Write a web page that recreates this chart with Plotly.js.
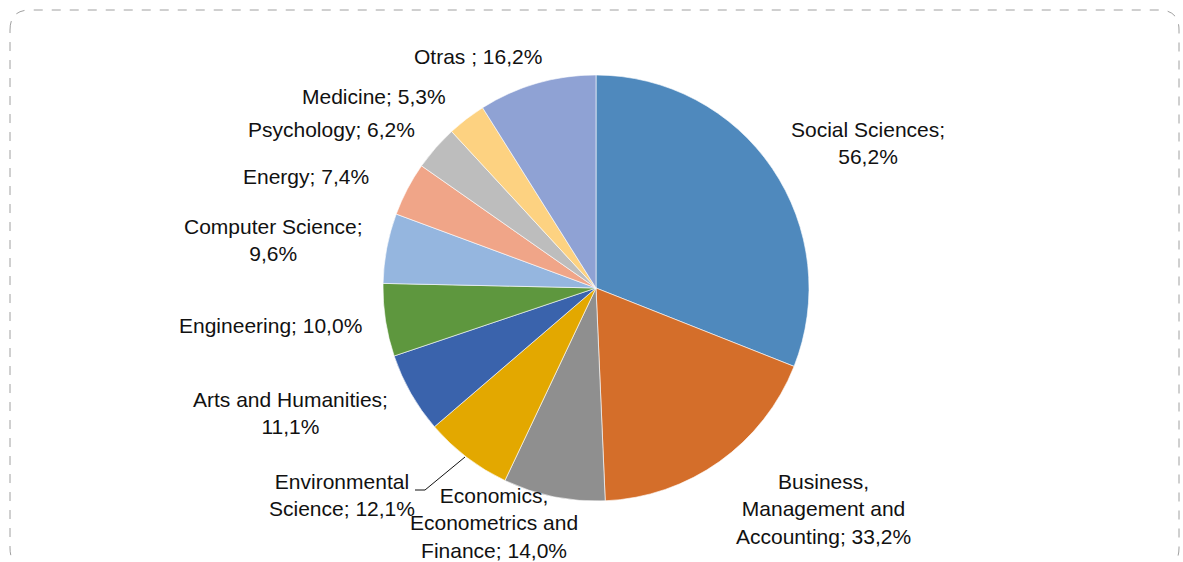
<!DOCTYPE html>
<html>
<head>
<meta charset="utf-8">
<script src="https://cdn.plot.ly/plotly-3.0.1.min.js"></script>
<style>html,body{margin:0;padding:0;background:#fff;}#chart{width:1183px;height:562px;}</style>
</head>
<body>
<div id="chart"></div>
<script>
// ---- data ----
const categories = ["Social Sciences", "Business,<br>Management and<br>Accounting", "Economics,<br>Econometrics and<br>Finance", "Environmental<br>Science", "Arts and Humanities;", "Engineering", "Computer Science;", "Energy", "Psychology", "Medicine", "Otras "];
const values = [56.2, 33.2, 14.0, 12.1, 11.1, 10.0, 9.6, 7.4, 6.2, 5.3, 16.2];
const valueLabels = ["56,2%", "33,2%", "14,0%", "12,1%", "11,1%", "10,0%", "9,6%", "7,4%", "6,2%", "5,3%", "16,2%"];
const labelSep = [";<br>", "; ", "; ", "; ", "<br>", "; ", "<br>", "; ", "; ", "; ", "; "];

// ---- styling / layout ----
const colors = ["#4F89BD", "#D46E2A", "#8F8F8F", "#E3A800", "#3A63AC", "#5E973E", "#95B6DF", "#F0A588", "#BDBDBD", "#FDD281", "#8FA2D4"];
const W = 1183, H = 562;
const cx = 596, cy = 288, R = 213;
// label centres in pixels (layout only)
const labelPos = [[868,143],[823,509],[494,523],[342,495],[290,413],[270,325],[273,240],[306,177],[331,129],[374,96],[478,57]];

const annotations = categories.map((c, i) => ({
  xref: "paper", yref: "paper",
  x: labelPos[i][0] / W, y: 1 - labelPos[i][1] / H,
  xanchor: "center", yanchor: "middle", align: "center",
  text: c + labelSep[i] + valueLabels[i],
  showarrow: false,
  font: {family: "Liberation Sans, Arial, sans-serif", size: 21, color: "#111"}
}));

const rr = 20, L = 10, T = 10, Rt = 1179, B = 568;
const borderPath = `M ${L} ${T+rr} Q ${L} ${T} ${L+rr} ${T} L ${Rt-rr} ${T} Q ${Rt} ${T} ${Rt} ${T+rr} L ${Rt} ${B-rr} Q ${Rt} ${B} ${Rt-rr} ${B} L ${L+rr} ${B} Q ${L} ${B} ${L} ${B-rr} Z`;

const data = [{
  type: "pie",
  values: values,
  labels: categories,
  sort: false,
  direction: "clockwise",
  rotation: 0,
  textinfo: "none",
  hoverinfo: "none",
  marker: {colors: colors, line: {color: "#ffffff", width: 0.6}},
  domain: {x: [(cx - R) / W, (cx + R) / W], y: [(H - cy - R) / H, (H - cy + R) / H]},
  showlegend: false
}];

const layout = {
  width: W, height: H,
  margin: {l: 0, r: 0, t: 0, b: 0},
  paper_bgcolor: "#ffffff",
  showlegend: false,
  annotations: annotations,
  shapes: [
    {type: "path", xref: "x", yref: "y", path: borderPath, line: {color: "#A0A0A0", width: 1, dash: "dash"}, fillcolor: "rgba(0,0,0,0)"},
    {type: "path", xref: "x", yref: "y", path: "M 415 490 L 425 490 L 465 457", line: {color: "#111", width: 1}}
  ],
  xaxis: {range: [0, W], visible: false, fixedrange: true},
  yaxis: {range: [H, 0], visible: false, fixedrange: true}
};

Plotly.newPlot("chart", data, layout, {displayModeBar: false, staticPlot: true});
</script>
</body>
</html>
